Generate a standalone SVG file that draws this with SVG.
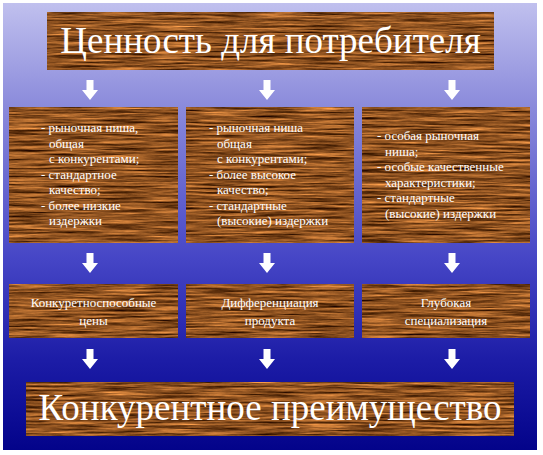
<svg xmlns="http://www.w3.org/2000/svg" xmlns:xlink="http://www.w3.org/1999/xlink" width="543" height="455" viewBox="0 0 543 455">
<defs>
  <linearGradient id="bg" x1="0" y1="0" x2="0" y2="1">
    <stop offset="0" stop-color="#c0c0ee"/>
    <stop offset="0.22" stop-color="#8d8ddc"/>
    <stop offset="0.57" stop-color="#4646c6"/>
    <stop offset="0.8" stop-color="#1c1ca6"/>
    <stop offset="1" stop-color="#03038a"/>
  </linearGradient>
  <filter id="wood" x="0" y="0" width="1" height="1" color-interpolation-filters="sRGB">
    <feTurbulence type="fractalNoise" baseFrequency="0.02 0.5" numOctaves="5" seed="7" result="n"/>
    <feColorMatrix in="n" type="matrix" values="1.15 0 0 0 -0.02  0.8 0 0 0 -0.08  0.45 0 0 0 -0.1  0 0 0 0 1" result="c"/>
    <feComposite in="c" in2="SourceGraphic" operator="in"/>
  </filter>
  <path id="arrow" d="M-3.5 0 H3.5 V10 H8 L0 20 L-8 10 H-3.5 Z"/>
  <style>
    .box { fill: #8c5a2b; filter: url(#wood); }
    .t { fill: #ffffff; font-family: "Times New Roman", "Liberation Serif", "DejaVu Serif", serif; }
    .big { font-size: 37px; text-anchor: middle; }
    .sm { font-size: 13px; }
    .c { text-anchor: middle; }
    .arr { fill: #ffffff; }
  </style>
</defs>
<rect x="0" y="0" width="543" height="455" fill="#ffffff"/>
<rect x="3" y="3" width="534" height="447" fill="url(#bg)"/>

<g id="connectors" class="arr">
  <use xlink:href="#arrow" x="90" y="80"/>
  <use xlink:href="#arrow" x="267" y="80"/>
  <use xlink:href="#arrow" x="452" y="80"/>
  <use xlink:href="#arrow" x="90" y="253"/>
  <use xlink:href="#arrow" x="267" y="253"/>
  <use xlink:href="#arrow" x="452" y="253"/>
  <use xlink:href="#arrow" x="90" y="349"/>
  <use xlink:href="#arrow" x="267" y="349"/>
  <use xlink:href="#arrow" x="452" y="349"/>
</g>

<g id="value">
  <rect class="box" x="47" y="12" width="447" height="58"/>
  <text class="t big" x="270.5" y="53">Ценность для потребителя</text>
</g>

<g id="cost">
  <rect class="box" x="9" y="107" width="169" height="136"/>
  <text class="t sm" x="41" y="132">- рыночная ниша,</text>
  <text class="t sm" x="49" y="147.5">общая</text>
  <text class="t sm" x="49" y="163">с конкурентами;</text>
  <text class="t sm" x="41" y="178.5">- стандартное</text>
  <text class="t sm" x="49" y="194">качество;</text>
  <text class="t sm" x="41" y="209.5">- более низкие</text>
  <text class="t sm" x="49" y="225">издержки</text>
</g>

<g id="diff">
  <rect class="box" x="186" y="107" width="168" height="136"/>
  <text class="t sm" x="209" y="132">- рыночная ниша</text>
  <text class="t sm" x="217" y="147.5">общая</text>
  <text class="t sm" x="217" y="163">с конкурентами;</text>
  <text class="t sm" x="209" y="178.5">- более высокое</text>
  <text class="t sm" x="217" y="194">качество;</text>
  <text class="t sm" x="209" y="209.5">- стандартные</text>
  <text class="t sm" x="217" y="225">(высокие) издержки</text>
</g>

<g id="focus">
  <rect class="box" x="362" y="107" width="168" height="136"/>
  <text class="t sm" x="377" y="140">- особая рыночная</text>
  <text class="t sm" x="385" y="155.5">ниша;</text>
  <text class="t sm" x="377" y="171">- особые качественные</text>
  <text class="t sm" x="385" y="186.5">характеристики;</text>
  <text class="t sm" x="377" y="202">- стандартные</text>
  <text class="t sm" x="385" y="217.5">(высокие) издержки</text>
</g>

<g id="prices">
  <rect class="box" x="9" y="284" width="169" height="54"/>
  <text class="t sm c" x="93.5" y="307">Конкуретноспособные</text>
  <text class="t sm c" x="93.5" y="325">цены</text>
</g>

<g id="product">
  <rect class="box" x="186" y="284" width="168" height="54"/>
  <text class="t sm c" x="270" y="307">Дифференциация</text>
  <text class="t sm c" x="270" y="325">продукта</text>
</g>

<g id="special">
  <rect class="box" x="362" y="284" width="168" height="54"/>
  <text class="t sm c" x="446" y="307">Глубокая</text>
  <text class="t sm c" x="446" y="325">специализация</text>
</g>

<g id="advantage">
  <rect class="box" x="26" y="382" width="488" height="54"/>
  <text class="t big" x="270" y="420">Конкурентное преимущество</text>
</g>
</svg>
